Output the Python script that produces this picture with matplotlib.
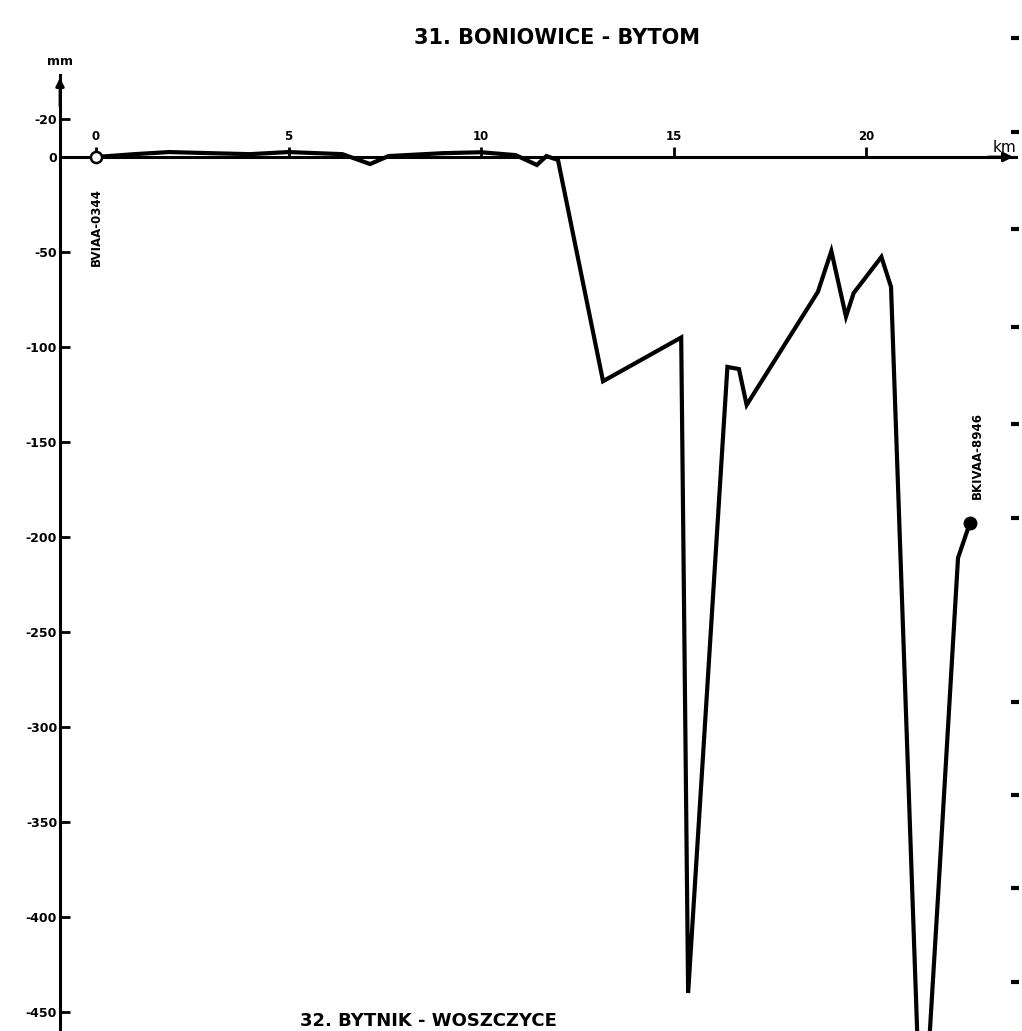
import matplotlib
matplotlib.use("Agg")
import matplotlib.pyplot as plt

# ---- data ----
km = [0.0, 1.0, 1.9, 3.0, 4.0, 5.0, 6.4, 7.12, 7.6, 9.0, 10.0, 10.9, 11.45, 11.7, 12.0,
      13.17, 15.2, 15.38, 16.4, 16.7, 16.9, 18.75, 19.1, 19.48, 19.68, 20.4, 20.65,
      21.45, 21.87, 22.39, 22.7]
mm = [0.0, 1.5, 2.6, 2.0, 1.5, 2.6, 1.5, -3.7, 0.5, 2.0, 2.5, 1.0, -4.2, 0.5, -1.6,
      -118, -95, -440, -110.5, -111.6, -130.5, -71, -49.5, -84, -71.6, -52.6, -68.4,
      -530, -389.5, -211, -192.6]

y_ticks = [20, 0, -50, -100, -150, -200, -250, -300, -350, -400, -450]
y_tick_labels = ["-20", "0", "-50", "-100", "-150", "-200", "-250", "-300", "-350", "-400", "-450"]
x_ticks = [0, 5, 10, 15, 20]
x_tick_labels = ["0", "5", "10", "15", "20"]
right_marks_mm = [62.6, 13.2, -37.9, -89.5, -140.5, -190, -286.8, -335.8, -384.7, -434.2]

title = "31. BONIOWICE - BYTOM"
next_title = "32. BYTNIK - WOSZCZYCE"
start_label = "BVIAA-0344"
end_label = "BKIVAA-8946"

# ---- figure ----
W, H = 1022, 1031
fig = plt.figure(figsize=(W / 100, H / 100), dpi=100)
ax = fig.add_axes([0, 0, 1, 1])
ax.set_facecolor("white")

# pixel -> data mapping of the original
px_per_km = 38.5
x0_px = 96
px_per_mm = 1.9
y0_px = 157
ax.set_xlim((0 - x0_px) / px_per_km, (W - x0_px) / px_per_km)
ax.set_ylim((y0_px - H) / px_per_mm, (y0_px - 0) / px_per_mm)

yaxis_x = (60 - x0_px) / px_per_km
xaxis_end = (1016 - x0_px) / px_per_km
yaxis_top = (y0_px - 75) / px_per_mm

for s in ["top", "right"]:
    ax.spines[s].set_visible(False)
ax.spines["left"].set_position(("data", yaxis_x))
ax.spines["bottom"].set_position(("data", 0))
ax.spines["left"].set_bounds(ax.get_ylim()[0], yaxis_top)
ax.spines["bottom"].set_bounds(yaxis_x, xaxis_end)
ax.spines["left"].set_linewidth(2.2)
ax.spines["bottom"].set_linewidth(2.2)

ax.set_yticks(y_ticks)
ax.set_yticklabels(y_tick_labels, fontsize=9, fontweight="bold")
ax.tick_params(axis="y", direction="in", length=7, width=2, pad=2)

ax.set_xticks(x_ticks)
ax.set_xticklabels([])
ax.tick_params(axis="x", direction="in", length=7, width=2)
for xv, lab in zip(x_ticks, x_tick_labels):
    ax.annotate(lab, xy=(xv, 0), xytext=(0, 15), textcoords="offset points",
                ha="center", va="center", fontsize=8.5, fontweight="bold")

# axis arrows
ax.annotate("", xy=(xaxis_end, 0), xytext=(xaxis_end - 0.8, 0),
            arrowprops=dict(arrowstyle="-|>", color="black", lw=2, mutation_scale=14))
ax.annotate("", xy=(yaxis_x, yaxis_top), xytext=(yaxis_x, yaxis_top - 18),
            arrowprops=dict(arrowstyle="-|>", color="black", lw=2, mutation_scale=12))

ax.annotate("mm", xy=(yaxis_x, yaxis_top), xytext=(0, 10), textcoords="offset points",
            ha="center", va="center", fontsize=9, fontweight="bold")
ax.annotate("km", xy=(xaxis_end, 0), xytext=(-17, 7), textcoords="offset points",
            ha="left", va="center", fontsize=11)

# profile line
ax.plot(km, mm, color="black", lw=3.0, solid_joinstyle="miter", zorder=3)
ax.plot(km[0], mm[0], marker="o", ms=8, mfc="white", mec="black", mew=1.8, zorder=4)
ax.plot(km[-1], mm[-1], marker="o", ms=9, color="black", zorder=4)

ax.text(km[0], -37, start_label, rotation=90, ha="center", va="center",
        fontsize=8.5, fontweight="bold")
ax.text(km[-1] + 0.2, -157, end_label, rotation=90, ha="center", va="center",
        fontsize=8.5, fontweight="bold")

# marks of the neighbouring chart at right edge
sec = ax.secondary_yaxis(1019 / W)
sec.set_yticks(right_marks_mm)
sec.set_yticklabels([])
sec.tick_params(direction="in", length=6, width=3)
sec.spines["right"].set_visible(False)

fig.text(557 / W, 1 - 38 / H, title, ha="center", va="center",
         fontsize=15, fontweight="bold")
fig.text(300 / W, 1 - 1021 / H, next_title, ha="left", va="center",
         fontsize=13, fontweight="bold")

fig.savefig("out.png", dpi=100, facecolor="white")
